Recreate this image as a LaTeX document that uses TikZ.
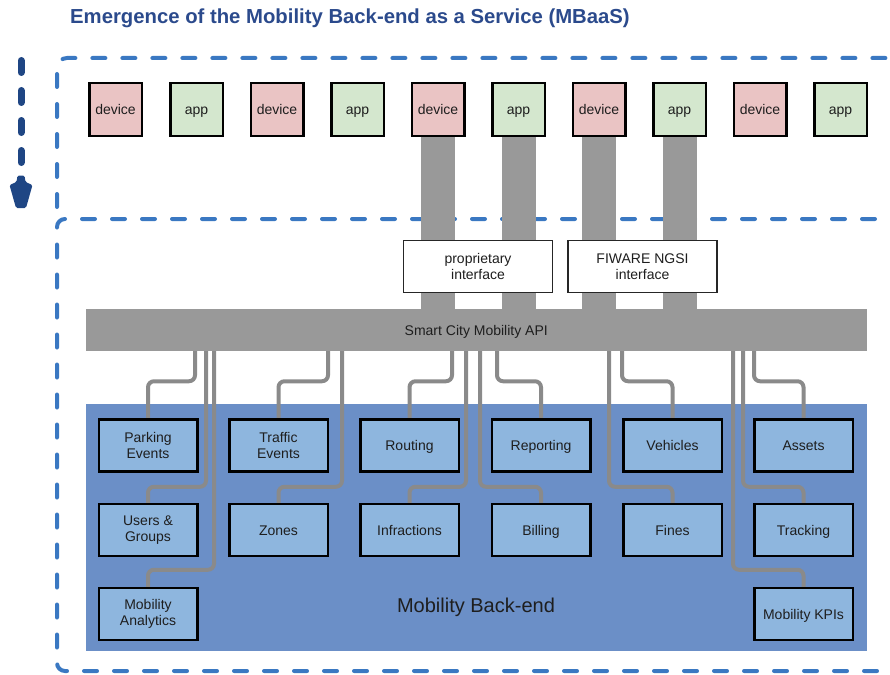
\documentclass[tikz,border=0pt]{standalone}
\usepackage{fontspec}
\setmainfont{Liberation Sans}
\pgfdeclarelayer{bg}
\pgfdeclarelayer{mid}
\pgfsetlayers{bg,mid,main}
\definecolor{titleblue}{RGB}{43,74,140}
\definecolor{navyarrow}{RGB}{31,70,132}
\definecolor{dashblue}{RGB}{58,120,194}
\definecolor{devfill}{RGB}{234,196,196}
\definecolor{appfill}{RGB}{212,231,206}
\definecolor{bargray}{RGB}{153,153,153}
\definecolor{conngray}{RGB}{138,138,138}
\definecolor{beblue}{RGB}{107,143,199}
\definecolor{modfill}{RGB}{142,182,222}
\definecolor{txt}{RGB}{30,30,30}
\begin{document}
\begin{tikzpicture}[x=1pt,y=-1pt,
  basefont/.style={font=\fontsize{14}{15.5}\selectfont, text=txt},
  oneline/.style={text height=11pt, text depth=1pt},
  rowbox/.style={basefont, oneline, draw=black, line width=2.5pt, minimum width=52.5pt, minimum height=52.5pt, inner sep=0pt},
  devbox/.style={rowbox, fill=devfill},
  appbox/.style={rowbox, fill=appfill},
  iface/.style={basefont, draw=black!85, line width=1.3pt, fill=white, minimum width=149pt, minimum height=52pt, inner sep=0pt, align=center},
  apibar/.style={basefont, oneline, fill=bargray, minimum width=780.5pt, minimum height=42pt, inner sep=0pt},
  modbox/.style={basefont, draw=black, line width=2.5pt, fill=modfill, minimum width=98.5pt, minimum height=52pt, inner sep=0pt, align=center},
  modone/.style={modbox, oneline},
  conn/.style={draw=conngray, line width=4pt, rounded corners=6pt},
  feedbar/.style={draw=bargray, line width=34pt},
  bluedash/.style={draw=dashblue, line width=4pt, line cap=round, dash pattern=on 13pt off 17pt},
]
\useasboundingbox (0,0) rectangle (890,674);

% title
\node[anchor=west, font=\fontsize{20.3}{24}\selectfont\bfseries, text=titleblue, inner sep=0pt] (title) at (70,18) {Emergence of the Mobility Back-end as a Service (MBaaS)};

% left arrow
\draw[navyarrow, line width=7pt, line cap=round, dash pattern=on 12pt off 18pt] (21,60.5) -- (21,163);
\fill[navyarrow, rounded corners=1.5pt] (17.5,175.5) -- (24.5,175.5) -- (25.5,182) -- (32.5,185) -- (26,208) -- (16,208) -- (9.5,185) -- (16.5,182) -- cycle;

% dashed boxes and back-end area
\begin{pgfonlayer}{bg}
\draw[bluedash, rounded corners=10pt] (57,207) -- (57,58) -- (905,58);
\draw[bluedash, rounded corners=8pt] (905,219) -- (57,219) -- (57,671) -- (905,671);
\fill[beblue] (86,404) rectangle (867,651);
\end{pgfonlayer}

% devices and apps
\foreach \i/\x in {1/115.5,3/277,5/438,7/599,9/760}
  \node[devbox] (d\i) at (\x,109.5) {device};
\foreach \i/\x in {2/196.5,4/357.5,6/518.5,8/679.5,10/840.5}
  \node[appbox] (d\i) at (\x,109.5) {app};

% API bar
\node[apibar] (api) at (476.25,330) {Smart City Mobility API};

% interfaces
\node[iface] (prop) at (478,266.5) {proprietary\\interface};
\node[iface] (fiware) at (642.5,266.5) {FIWARE NGSI\\interface};

% feed bars
\begin{pgfonlayer}{mid}
\foreach \i in {5,6,7,8}
  \draw[feedbar] (d\i.south) -- (d\i.south |- api.north);
\end{pgfonlayer}

% back-end label
\node[font=\fontsize{20}{24}\selectfont, text=txt, inner sep=0pt] (belabel) at (476,607) {Mobility Back-end};

% modules
\node[modbox] (pe) at (148,445.5) {Parking\\Events};
\node[modbox] (te) at (278.5,445.5) {Traffic\\Events};
\node[modone] (ro) at (409.5,445.5) {Routing};
\node[modone] (re) at (541,445.5) {Reporting};
\node[modone] (ve) at (672.5,445.5) {Vehicles};
\node[modone] (as) at (803.5,445.5) {Assets};
\node[modbox] (ug) at (148,530) {Users \&\\Groups};
\node[modone] (zo) at (278.5,530) {Zones};
\node[modone] (in) at (409.5,530) {Infractions};
\node[modone] (bi) at (541,530) {Billing};
\node[modone] (fi) at (672.5,530) {Fines};
\node[modone] (tr) at (803.5,530) {Tracking};
\node[modbox] (ma) at (148,614) {Mobility\\Analytics};
\node[modone] (kp) at (803.5,614) {Mobility KPIs};

% tap points on the API bar
\foreach \n/\x in {tpe/195,tug/206,tma/214,tte/328,tzo/342,tro/452,tin/466,tbi/480,tre/497,tfi/609,tve/622,tkp/733,ttr/743,tas/754}
  \coordinate (\n) at (\x,351);

% connectors
\begin{pgfonlayer}{mid}
\foreach \m in {pe,te,ro,re,ve,as}
  \draw[conn] (\m.north) -- ++(0,-37) -| (t\m);
\foreach \m in {ug,zo,in,bi,fi,tr}
  \draw[conn] (\m.north) -- ++(0,-16) -| (t\m);
\foreach \m in {ma,kp}
  \draw[conn] (\m.north) -- ++(0,-17) -| (t\m);
\end{pgfonlayer}
\end{tikzpicture}
\end{document}
